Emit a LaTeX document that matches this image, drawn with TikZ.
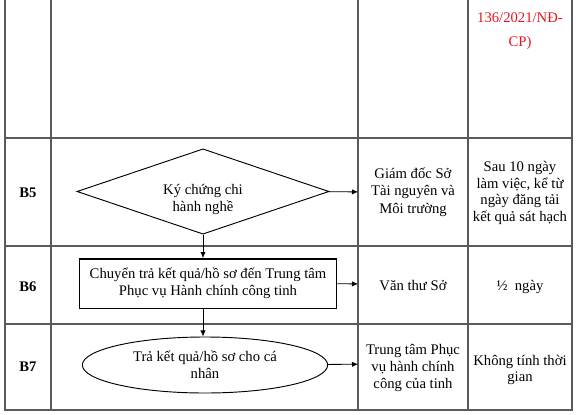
\documentclass[tikz,border=0pt]{standalone}
\usepackage{fontspec}
\setmainfont{Liberation Serif}
\usepackage{xcolor}
\usetikzlibrary{arrows.meta,shapes.geometric}

\definecolor{gridgray}{RGB}{90,90,90}
\definecolor{notered}{RGB}{230,20,30}
\newcommand{\shifttext}[2]{\raisebox{#1}[\height][\depth]{\begin{tabular}{@{}c@{}}#2\end{tabular}}}

\begin{document}
\begin{tikzpicture}[x=0.75pt, y=-0.75pt,
  grid/.style={draw=gridgray, line width=0.9pt},
  decide/.style={diamond, draw, line width=0.7pt, shape aspect=3, minimum width=189pt, minimum height=64pt, inner sep=0pt, align=center},
  process/.style={rectangle, draw, line width=1pt, minimum width=193pt, minimum height=37pt, inner sep=0pt, align=center},
  finish/.style={ellipse, draw, line width=0.7pt, minimum width=184pt, minimum height=42pt, inner sep=0pt, align=center},
  cell/.style={minimum width=82pt, inner sep=0pt, align=center},
  stepno/.style={font=\fontsize{11}{13}\selectfont\bfseries},
  >={Latex[length=1.6mm, width=1.4mm]},
  font=\fontsize{11}{12.5}\selectfont
]
\useasboundingbox (0,0) rectangle (576,415);

\foreach \x in {5,51,358,468,572} \draw[grid] (\x,0) -- (\x,410);
\foreach \y in {138,246,324,410} \draw[grid, line cap=rect] (5,\y) -- (572,\y);

\node[text=notered, align=center, font=\fontsize{11}{18}\selectfont] (cp) at (520,31) {136/2021/NĐ-\\CP)};

\node[stepno] (b5) at (28,193) {B5};
\node[stepno] (b6) at (28,287) {B6};
\node[stepno] (b7) at (28,367) {B7};

\node[decide]  (ky)     at (203,191.5) {\shifttext{-6pt}{Ký chứng chi\\hành nghề}};
\node[process] (chuyen) at (208,283.5) {Chuyển trả kết quả/hồ sơ đến Trung tâm\\Phục vụ Hành chính công tinh};
\node[finish]  (tra)    at (205,365)   {Trả kết quả/hồ sơ cho cá\\nhân};

\node[cell, font=\fontsize{11}{13}\selectfont] (giamdoc)  at (413,192)   {Giám đốc Sở\\Tài nguyên và\\Môi trường};
\node[cell] (vanthu)   at (413,284)   {\shifttext{-2pt}{Văn thư Sở}};
\node[cell, font=\fontsize{11}{12.5}\selectfont] (trungtam) at (413,364)   {\shifttext{-3pt}{Trung tâm Phục\\vụ hành chính\\công của tinh}};

\node[align=center] (t5) at (520,193) {Sau 10 ngày\\làm việc, kể từ\\ngày đăng tải\\kết quả sát hạch};
\node (t6) at (520,287) {½\enspace ngày};
\node[align=center] (t7) at (520,370) {Không tính thời\\gian};

\draw[->, line width=0.6pt] (ky) -- (giamdoc);
\draw[->, line width=0.6pt] (chuyen) -- (vanthu);
\draw[->, line width=0.6pt] (tra) -- (trungtam);
\draw[->, line width=0.6pt] (ky.south) -- (ky.south |- chuyen.north);
\draw[->, line width=0.6pt] (ky.south |- chuyen.south) -- (tra.north -| ky.south);
\end{tikzpicture}
\end{document}
